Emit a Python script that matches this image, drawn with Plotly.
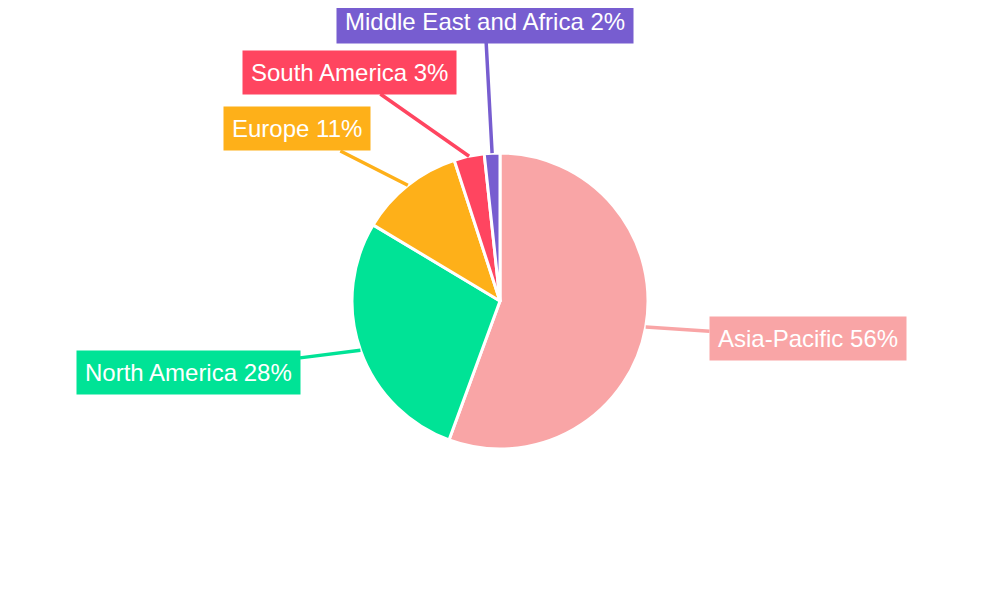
import math
import plotly.graph_objects as go

regions = ["Asia-Pacific", "North America", "Europe", "South America", "Middle East and Africa"]
shares = [55.6, 28.0, 11.4, 3.3, 1.7]
colors = ["#f9a5a6", "#00e396", "#feb019", "#ff4560", "#775dd0"]

# label box centres in pixels (page offset of 8,7 already removed)
label_pos = [(800, 330), (180, 364), (289, 121), (341, 64), (477, 13)]

W, H = 1000, 600
cx, cy, R = 492, 293, 148

fig = go.Figure(go.Pie(
    labels=regions, values=shares, sort=False, direction="clockwise", rotation=0,
    marker=dict(colors=colors, line=dict(color="white", width=3)),
    textinfo="none", hoverinfo="label+percent", showlegend=False,
    domain=dict(x=[(cx - R) / W, (cx + R) / W], y=[(H - cy - R) / H, (H - cy + R) / H]),
))

total = sum(shares)
start = 0.0
for name, v, c, (lx, ly) in zip(regions, shares, colors, label_pos):
    mid = (start + v / 2) / total * 2 * math.pi
    start += v
    ex = cx + R * math.sin(mid)
    ey = cy - R * math.cos(mid)
    fig.add_annotation(
        x=ex / W, y=1 - ey / H, xref="paper", yref="paper",
        ax=lx - ex, ay=ly - ey, axref="pixel", ayref="pixel",
        text=f"{name} {round(v / total * 100)}%", showarrow=True, arrowhead=0,
        arrowwidth=3.5, arrowcolor=c, bgcolor=c, borderpad=8,
        font=dict(family="Liberation Sans, Arial", size=24, color="white"),
    )

fig.update_layout(width=W, height=H, margin=dict(l=0, r=0, t=0, b=0),
                  paper_bgcolor="white", plot_bgcolor="white")
fig.write_html("out.html")
